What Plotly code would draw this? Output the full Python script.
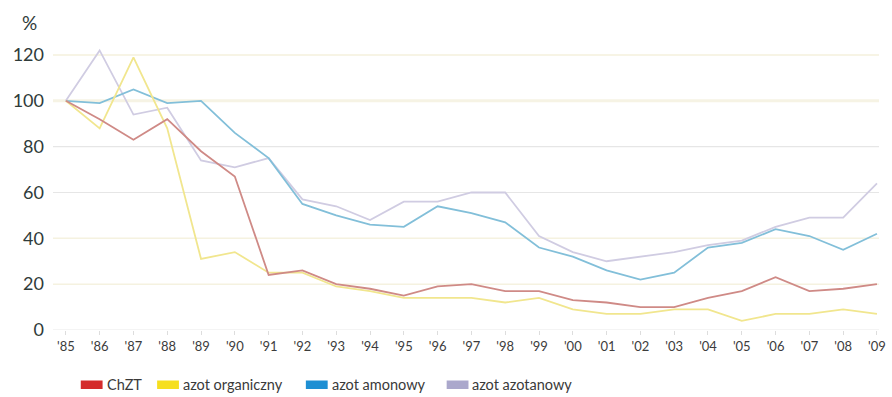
import plotly.graph_objects as go

# --- data -------------------------------------------------------------
years = list(range(1985, 2010))
year_labels = ["'" + str(y)[2:] for y in years]

series_names = ["ChZT", "azot organiczny", "azot amonowy", "azot azotanowy"]

chzt = [100, 92, 83, 92, 78, 67, 24, 26, 20, 18, 15, 19, 20, 17, 17,
        13, 12, 10, 10, 14, 17, 23, 17, 18, 20]
azot_organiczny = [100, 88, 119, 88, 31, 34, 25, 25, 19, 17, 14, 14, 14, 12, 14,
                   9, 7, 7, 9, 9, 4, 7, 7, 9, 7]
azot_amonowy = [100, 99, 105, 99, 100, 86, 75, 55, 50, 46, 45, 54, 51, 47, 36,
                32, 26, 22, 25, 36, 38, 44, 41, 35, 42]
azot_azotanowy = [100, 122, 94, 97, 74, 71, 75, 57, 54, 48, 56, 56, 60, 60, 41,
                  34, 30, 32, 34, 37, 39, 45, 49, 49, 64]

y_ticks = [0, 20, 40, 60, 80, 100, 120]

# --- styling ----------------------------------------------------------
W, H = 892, 397
M_L, M_R, M_T, M_B = 53, 6, 48, 67
PW, PH = W - M_L - M_R, H - M_T - M_B

line_colors = {
    "ChZT": "#cf8a86",
    "azot organiczny": "#f1e68e",
    "azot amonowy": "#82bfd9",
    "azot azotanowy": "#d0cce2",
}
swatch_colors = {
    "ChZT": "#d42b2b",
    "azot organiczny": "#f6df1f",
    "azot amonowy": "#1e8fd3",
    "azot azotanowy": "#aba8cc",
}
grid_colors = ["#e8e8e8", "#f5f2e0", "#f5f2e0", "#e6e6e6", "#e6e6e6", "#f6f3e4", "#f4f1dc"]
grid_widths = [1, 1.5, 1.5, 1.2, 1.2, 3, 1.5]

FONT = "Lato"
TEXT = "#2f3b3a"

fig = go.Figure()

# horizontal guide lines
shapes = []
for v, c, w in zip(y_ticks, grid_colors, grid_widths):
    shapes.append(dict(type="line", xref="paper", x0=0, x1=1, yref="y", y0=v, y1=v,
                       line=dict(color=c, width=w), layer="below"))

values = {
    "ChZT": chzt,
    "azot organiczny": azot_organiczny,
    "azot amonowy": azot_amonowy,
    "azot azotanowy": azot_azotanowy,
}
for name in ["azot azotanowy", "azot amonowy", "azot organiczny", "ChZT"]:
    fig.add_trace(go.Scatter(
        x=years, y=values[name], mode="lines", name=name,
        line=dict(color=line_colors[name], width=1.8),
        showlegend=False,
    ))

# legend drawn beneath the plot
def px_x(p):
    return (p - M_L) / PW

def px_y(p):
    return (H - M_B - p) / PH

legend_left = [81, 158, 308, 450]
annotations = []
for name, left in zip(series_names, legend_left):
    shapes.append(dict(type="rect", xref="paper", yref="paper",
                       x0=px_x(left), x1=px_x(left + 22),
                       y0=px_y(389), y1=px_y(380.5),
                       fillcolor=swatch_colors[name], line=dict(width=0)))
    annotations.append(dict(text=name, xref="paper", yref="paper",
                            x=px_x(left + 24), y=px_y(384.5),
                            xanchor="left", yanchor="middle", showarrow=False,
                            font=dict(family=FONT, size=14.5, color="#3a3a3a")))

annotations.append(dict(text="%", xref="paper", yref="paper",
                        x=px_x(29), y=px_y(23), xanchor="center", yanchor="middle",
                        showarrow=False, font=dict(family=FONT, size=19, color=TEXT)))

fig.update_layout(
    width=W, height=H,
    margin=dict(l=M_L, r=M_R, t=M_T, b=M_B),
    paper_bgcolor="white", plot_bgcolor="white",
    shapes=shapes, annotations=annotations,
    xaxis=dict(
        range=[1984.62, 2009.06],
        tickvals=years, ticktext=year_labels,
        showgrid=False, zeroline=False, showline=False,
        ticks="outside", ticklen=4, tickcolor="#dddddd", tickwidth=1,
        ticklabeloverflow="allow",
        tickfont=dict(family=FONT, size=13, color="#3c3c3c"),
    ),
    yaxis=dict(
        range=[0, 123.05],
        tickvals=y_ticks, ticktext=[str(v) for v in y_ticks],
        showgrid=False, zeroline=False, showline=False,
        ticks="", ticklabelstandoff=8,
        tickfont=dict(family=FONT, size=18, color=TEXT),
    ),
)

fig.write_html("out.html")
